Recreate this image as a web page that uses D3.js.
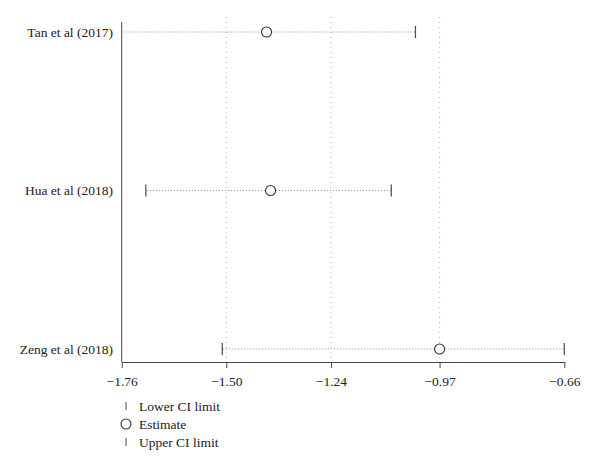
<!DOCTYPE html>
<html><head><meta charset="utf-8">
<script src="https://cdn.jsdelivr.net/npm/d3@7"></script>
<style>body{margin:0;background:#fff}svg{display:block}</style>
</head><body>
<script>
const studies = ["Tan et al (2017)", "Hua et al (2018)", "Zeng et al (2018)"];
const estimates = [-1.40, -1.39, -0.97];
const lowerCI = [-1.80, -1.70, -1.51];
const upperCI = [-1.03, -1.09, -0.66];
const tickValues = [-1.76, -1.50, -1.24, -0.97, -0.66];
const gridValues = [-1.50, -1.24, -0.97];
const legendLabels = ["Lower CI limit", "Estimate", "Upper CI limit"];

const W = 600, H = 471;
const svg = d3.select("body").append("svg").attr("width", W).attr("height", H);
const font = "'Liberation Serif', 'Times New Roman', serif";
const fs = 13.5;

const x = d3.scaleLinear().domain([-1.76, -0.66]).range([121.7, 564.3]);
const y = d3.scalePoint().domain(studies).range([32, 349]);
const axisY = 362, topY = 22;
const xc = v => x(Math.max(-1.76, Math.min(-0.66, v)));

// grid
svg.append("g").selectAll("line").data(gridValues).join("line")
  .attr("x1", d => x(d)).attr("x2", d => x(d))
  .attr("y1", 17).attr("y2", axisY)
  .attr("stroke", "#b0b0b0").attr("stroke-width", 1).attr("stroke-dasharray", "1,4");

// x axis
const xAxis = d3.axisBottom(x).tickValues(tickValues).tickSize(6).tickSizeOuter(0)
  .tickFormat(d => d3.format(".2f")(d).replace("-", "\u2212"));
const gx = svg.append("g").attr("transform", `translate(0,${axisY})`).call(xAxis);
gx.select(".domain").attr("stroke", "#444");
gx.selectAll(".tick line").attr("stroke", "#444");
gx.selectAll(".tick text").attr("font-family", font).attr("font-size", fs)
  .attr("fill", "#222").attr("dy", "1.1em");

// y axis
svg.append("line").attr("x1", x(-1.76)).attr("x2", x(-1.76))
  .attr("y1", topY).attr("y2", axisY).attr("stroke", "#444").attr("stroke-width", 1);

// labels
svg.append("g").selectAll("text").data(studies).join("text")
  .attr("x", 113).attr("y", d => y(d)).attr("dy", "0.35em")
  .attr("text-anchor", "end").attr("font-family", font).attr("font-size", fs)
  .attr("fill", "#222").text(d => d);

const rows = studies.map((s, i) => ({s, est: estimates[i], lo: lowerCI[i], hi: upperCI[i]}));

// CI dotted lines
svg.append("g").selectAll("line").data(rows).join("line")
  .attr("x1", d => xc(d.lo) + 1).attr("x2", d => xc(d.hi))
  .attr("y1", d => y(d.s)).attr("y2", d => y(d.s))
  .attr("stroke", "#888").attr("stroke-width", 1).attr("stroke-dasharray", "1,2");

// CI tick marks (only if within axis range)
const ends = [];
rows.forEach(d => {
  if (d.lo >= -1.76) ends.push({v: d.lo, s: d.s});
  if (d.hi <= -0.66) ends.push({v: d.hi, s: d.s});
});
svg.append("g").selectAll("line").data(ends).join("line")
  .attr("x1", d => x(d.v)).attr("x2", d => x(d.v))
  .attr("y1", d => y(d.s) - 6).attr("y2", d => y(d.s) + 6)
  .attr("stroke", "#555").attr("stroke-width", 1.3);

// estimates
svg.append("g").selectAll("circle").data(rows).join("circle")
  .attr("cx", d => x(d.est)).attr("cy", d => y(d.s)).attr("r", 5)
  .attr("fill", "#fff").attr("stroke", "#333").attr("stroke-width", 1.1);

// legend
const lg = svg.append("g");
const ly = [406, 424, 442];
legendLabels.forEach((t, i) => {
  if (i === 1) {
    lg.append("circle").attr("cx", 126).attr("cy", ly[i]).attr("r", 5)
      .attr("fill", "#fff").attr("stroke", "#333").attr("stroke-width", 1.1);
  } else {
    lg.append("line").attr("x1", 126).attr("x2", 126).attr("y1", ly[i] - 4).attr("y2", ly[i] + 4)
      .attr("stroke", "#666").attr("stroke-width", 1.2);
  }
  lg.append("text").attr("x", 139).attr("y", ly[i]).attr("dy", "0.35em")
    .attr("font-family", font).attr("font-size", fs).attr("fill", "#222").text(t);
});
</script>
</body></html>
